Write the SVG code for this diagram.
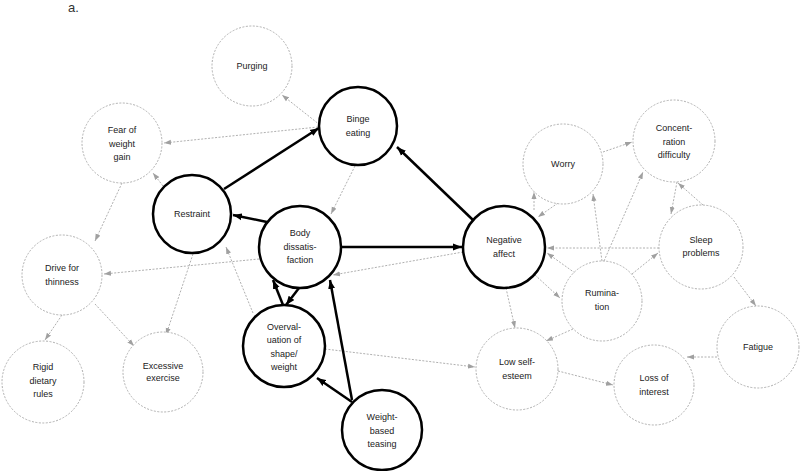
<svg xmlns="http://www.w3.org/2000/svg" width="800" height="471" viewBox="0 0 800 471">
<style>
.bold{fill:#fff;stroke:#000;stroke-width:2.5}
.light{fill:#fff;stroke:#b0b0b0;stroke-width:1;stroke-dasharray:2 1.5}
.t{font-family:"Liberation Sans",Arial,sans-serif;font-size:9px;fill:#222;text-anchor:middle}
.eb{stroke:#000;stroke-width:2.5;fill:none;marker-end:url(#ab)}
.eg{stroke:#b0b0b0;stroke-width:1;stroke-dasharray:2 1.5;fill:none;marker-end:url(#ag)}
</style>
<defs>
<marker id="ab" markerUnits="userSpaceOnUse" markerWidth="10" markerHeight="8" refX="9" refY="4" orient="auto"><path d="M0,0.5 L9,4 L0,7.5 z" fill="#000"/></marker>
<marker id="ag" markerUnits="userSpaceOnUse" markerWidth="8" markerHeight="6" refX="7" refY="3" orient="auto"><path d="M0,0.5 L7,3 L0,5.5 z" fill="#a0a0a0"/></marker>
</defs>
<rect width="800" height="471" fill="#fff"/>
<text x="68" y="12" style="font-family:'Liberation Sans',Arial,sans-serif;font-size:13px;fill:#333">a.</text>
<g id="connectors">
<line class="eg" x1="320" y1="125" x2="282" y2="95"/>
<line class="eg" x1="318" y1="127" x2="164" y2="143"/>
<line class="eg" x1="355" y1="166" x2="331" y2="214"/>
<line class="eg" x1="163" y1="186" x2="153" y2="173"/>
<line class="eg" x1="122" y1="183" x2="95" y2="241"/>
<line class="eg" x1="193" y1="254" x2="166" y2="335"/>
<line class="eg" x1="259" y1="259" x2="104" y2="274"/>
<line class="eg" x1="253" y1="313" x2="226" y2="247"/>
<line class="eg" x1="463" y1="252" x2="333" y2="275"/>
<line class="eg" x1="325" y1="349" x2="475" y2="367"/>
<line class="eg" x1="506" y1="288" x2="515" y2="328"/>
<line class="eg" x1="535" y1="275" x2="560" y2="298"/>
<line class="eg" x1="575" y1="273" x2="547" y2="253"/>
<line class="eg" x1="659" y1="248" x2="547" y2="248"/>
<line class="eg" x1="558" y1="203" x2="538" y2="217"/>
<line class="eg" x1="534" y1="210" x2="534" y2="192"/>
<line class="eg" x1="602" y1="261" x2="593" y2="194"/>
<line class="eg" x1="604" y1="261" x2="643" y2="172"/>
<line class="eg" x1="603" y1="152" x2="632" y2="142"/>
<line class="eg" x1="677" y1="182" x2="671" y2="214"/>
<line class="eg" x1="703" y1="205" x2="678" y2="183"/>
<line class="eg" x1="632" y1="274" x2="658" y2="253"/>
<line class="eg" x1="734" y1="277" x2="756" y2="306"/>
<line class="eg" x1="717" y1="357" x2="687" y2="357"/>
<line class="eg" x1="573" y1="329" x2="546" y2="341"/>
<line class="eg" x1="558" y1="371" x2="613" y2="385"/>
<line class="eg" x1="62" y1="315" x2="45" y2="340"/>
<line class="eg" x1="95" y1="304" x2="134" y2="346"/>
<line class="eb" x1="224" y1="189" x2="319" y2="128"/>
<line class="eb" x1="267" y1="222" x2="233" y2="215"/>
<line class="eb" x1="341" y1="247" x2="462" y2="247"/>
<line class="eb" x1="473" y1="220" x2="397" y2="147"/>
<line class="eb" x1="283" y1="305" x2="273" y2="280"/>
<line class="eb" x1="299" y1="288" x2="286" y2="305"/>
<line class="eb" x1="352" y1="402" x2="317" y2="378"/>
<line class="eb" x1="352" y1="400" x2="330" y2="280"/>
</g>
<g id="purging"><circle class="light" cx="252" cy="66" r="40"/><text class="t" x="252" y="69">Purging</text></g>
<g id="binge"><circle class="bold" cx="358" cy="126" r="39"/><text class="t" x="358" y="122">Binge</text><text class="t" x="358" y="136">eating</text></g>
<g id="fear"><circle class="light" cx="122" cy="143" r="40"/><text class="t" x="122" y="133">Fear of</text><text class="t" x="122" y="147">weight</text><text class="t" x="122" y="160">gain</text></g>
<g id="restraint"><circle class="bold" cx="192" cy="214" r="39"/><text class="t" x="192" y="217">Restraint</text></g>
<g id="body"><circle class="bold" cx="300" cy="247" r="41"/><text class="t" x="300" y="236">Body</text><text class="t" x="300" y="250">dissatis-</text><text class="t" x="300" y="263">faction</text></g>
<g id="negative"><circle class="bold" cx="504" cy="247" r="41"/><text class="t" x="504" y="243">Negative</text><text class="t" x="504" y="257">affect</text></g>
<g id="overvaluation"><circle class="bold" cx="284" cy="346" r="41"/><text class="t" x="284" y="330">Overval-</text><text class="t" x="284" y="343">uation of</text><text class="t" x="284" y="357">shape/</text><text class="t" x="284" y="370">weight</text></g>
<g id="teasing"><circle class="bold" cx="382" cy="430" r="40"/><text class="t" x="382" y="420">Weight-</text><text class="t" x="382" y="434">based</text><text class="t" x="382" y="447">teasing</text></g>
<g id="drive"><circle class="light" cx="62" cy="275" r="40"/><text class="t" x="62" y="271">Drive for</text><text class="t" x="62" y="285">thinness</text></g>
<g id="rigid"><circle class="light" cx="43" cy="382" r="41"/><text class="t" x="43" y="370">Rigid</text><text class="t" x="43" y="384">dietary</text><text class="t" x="43" y="397">rules</text></g>
<g id="excessive"><circle class="light" cx="163" cy="372" r="40"/><text class="t" x="163" y="369">Excessive</text><text class="t" x="163" y="381">exercise</text></g>
<g id="worry"><circle class="light" cx="563" cy="164" r="40"/><text class="t" x="563" y="167">Worry</text></g>
<g id="concentration"><circle class="light" cx="674" cy="141" r="41"/><text class="t" x="674" y="131">Concent-</text><text class="t" x="674" y="145">ration</text><text class="t" x="674" y="158">difficulty</text></g>
<g id="sleep"><circle class="light" cx="701" cy="247" r="42"/><text class="t" x="701" y="243">Sleep</text><text class="t" x="701" y="256">problems</text></g>
<g id="rumination"><circle class="light" cx="602" cy="301" r="40"/><text class="t" x="602" y="296">Rumina-</text><text class="t" x="602" y="310">tion</text></g>
<g id="fatigue"><circle class="light" cx="758" cy="347" r="41"/><text class="t" x="758" y="350">Fatigue</text></g>
<g id="lowselfesteem"><circle class="light" cx="517" cy="369" r="41"/><text class="t" x="517" y="365">Low self-</text><text class="t" x="517" y="379">esteem</text></g>
<g id="lossofinterest"><circle class="light" cx="654" cy="385" r="40"/><text class="t" x="654" y="381">Loss of</text><text class="t" x="654" y="395">interest</text></g>
</svg>
